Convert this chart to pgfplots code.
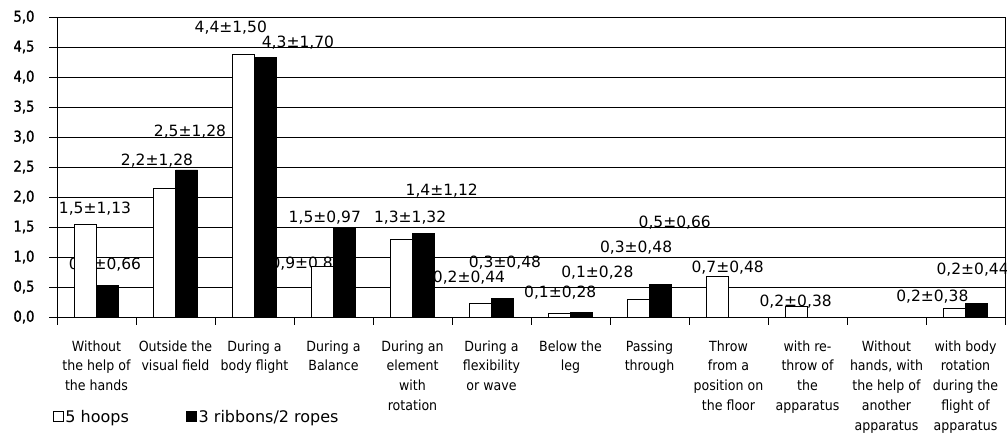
\documentclass[border=0pt]{standalone}
\usepackage{pgfplots}
\pgfplotsset{compat=1.18}
\usepackage{fontspec}
\setmainfont{DejaVu Sans}
\newfontfamily\catfont[FakeStretch=0.9]{DejaVu Sans}
\newfontfamily\tickfont[FakeStretch=0.88, FakeBold=1.2]{DejaVu Sans}
\tikzset{lbl/.style={font=\fontsize{15.5pt}{15.5pt}\selectfont, inner sep=0pt}}

\begin{document}
\begin{tikzpicture}
\begin{axis}[
  scale only axis, width=948pt, height=300pt,
  at={(0pt,0pt)}, anchor=south west,
  xmin=0.5, xmax=12.5, ymin=0, ymax=5,
  clip=false,
  axis line style={black, line width=0.8pt},
  ytick={0,0.5,...,5},
  ymajorgrids, major grid style={black, line width=0.8pt},
  xtick={0.5,1.5,...,12.5},
  x tick label as interval,
  xtick pos=bottom, ytick pos=left,
  tick align=outside, major tick length=8pt,
  tick style={black, line width=0.8pt},
  xticklabels={
    {Without\\the help of\\the hands},
    {Outside the\\visual field},
    {During a\\body flight},
    {During a\\Balance},
    {During an\\element\\with\\rotation},
    {During a\\flexibility\\or wave},
    {Below the\\leg},
    {Passing\\through},
    {Throw\\from a\\position on\\the floor},
    {with re-\\throw of\\the\\apparatus},
    {Without\\hands, with\\the help of\\another\\apparatus},
    {with body\\rotation\\during the\\flight of\\apparatus}},
  xticklabel style={font=\catfont\fontsize{14pt}{19.8pt}\selectfont, align=center, anchor=north, yshift=-12pt},
  yticklabel style={font=\tickfont\fontsize{15pt}{15pt}\selectfont, xshift=-11pt},
  /pgf/number format/use comma,
  /pgf/number format/fixed,
  /pgf/number format/fixed zerofill,
  /pgf/number format/precision=1,
  /pgf/number format/assume math mode=true,
  legend columns=2,
  legend style={at={(-0.008,-0.333)}, anchor=west, draw=none, fill=none,
    font=\fontsize{16pt}{16pt}\selectfont,
    /tikz/every even column/.append style={column sep=55pt}},
  sq legend/.style={legend image code/.code={\draw[##1, line width=0.8pt] (0pt,-5pt) rectangle (10pt,5pt);}},
]
% mean ± SD captions, drawn first so that grid and bars lie over them
\node[lbl] at (axis cs:0.981,1.80)  {1,5±1,13};
\node[lbl] at (axis cs:1.108,0.867) {0,5±0,66};
\node[lbl] at (axis cs:1.766,2.60)  {2,2±1,28};
\node[lbl] at (axis cs:2.184,3.083) {2,5±1,28};
\node[lbl] at (axis cs:2.70,4.817)  {4,4±1,50};
\node[lbl] at (axis cs:3.55,4.567)  {4,3±1,70};
\node[lbl] at (axis cs:3.66,0.883)  {0,9±0,84};
\node[lbl] at (axis cs:3.89,1.65)   {1,5±0,97};
\node[lbl] at (axis cs:4.97,1.65)   {1,3±1,32};
\node[lbl] at (axis cs:5.37,2.10)   {1,4±1,12};
\node[lbl] at (axis cs:6.17,0.90)   {0,3±0,48};
\node[lbl] at (axis cs:5.715,0.65)  {0,2±0,44};
\node[lbl] at (axis cs:6.87,0.40)   {0,1±0,28};
\node[lbl] at (axis cs:7.34,0.733)  {0,1±0,28};
\node[lbl] at (axis cs:7.83,1.15)   {0,3±0,48};
\node[lbl] at (axis cs:8.32,1.567)  {0,5±0,66};
\node[lbl] at (axis cs:8.99,0.817)  {0,7±0,48};
\node[lbl] at (axis cs:9.85,0.25)   {0,2±0,38};
\node[lbl] at (axis cs:11.58,0.333) {0,2±0,38};
\node[lbl] at (axis cs:12.09,0.783) {0,2±0,44};
% grid lines again, over the captions
\pgfplotsinvokeforeach{0.5,1.0,1.5,2.0,2.5,3.0,3.5,4.0,4.5,5.0}{
  \draw[black, line width=0.8pt] (axis cs:0.5,#1) -- (axis cs:12.5,#1);
}

% 5 hoops
\addplot[ybar, bar width=22pt, bar shift=-11pt, fill=white, draw=black, line width=0.8pt, sq legend]
  coordinates {(1,1.55) (2,2.15) (3,4.38) (4,0.84) (5,1.30) (6,0.22)
               (7,0.06) (8,0.30) (9,0.68) (10,0.17) (12,0.15)};
\addlegendentry{5 hoops}
% 3 ribbons / 2 ropes
\addplot[ybar, bar width=22pt, bar shift=11pt, fill=black, draw=black, line width=0.8pt, sq legend]
  coordinates {(1,0.53) (2,2.45) (3,4.32) (4,1.48) (5,1.39) (6,0.31)
               (7,0.07) (8,0.545) (12,0.23)};
\addlegendentry{3 ribbons/2 ropes}
\end{axis}
\pgfresetboundingbox
\path[use as bounding box] (-57pt,-118pt) rectangle (950pt,317pt);
\end{tikzpicture}
\end{document}
